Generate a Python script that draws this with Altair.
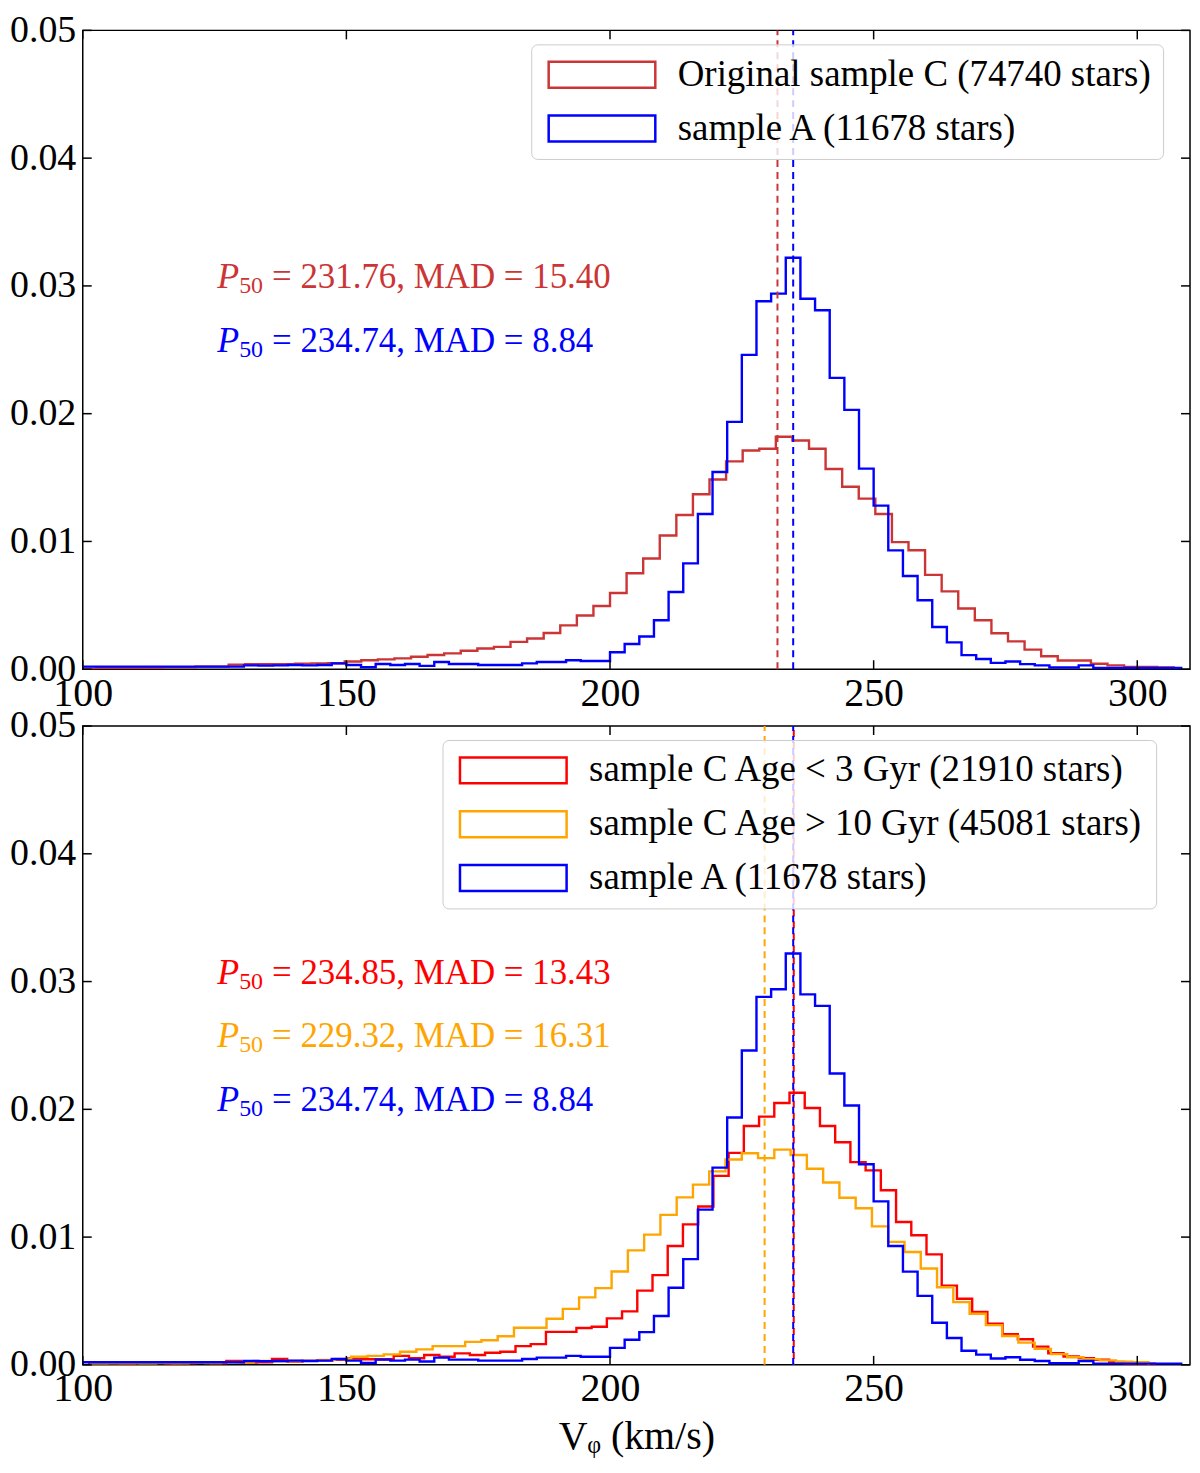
import altair as alt
import pandas as pd

FONT = "Liberation Serif"
W, H = 1111, 641

X_TICKS = [100, 150, 200, 250, 300]
Y_TICKS = [0.0, 0.01, 0.02, 0.03, 0.04, 0.05]

RED_C = "#cc3535"
BLUE = "#0000ff"
RED = "#ff0000"
ORANGE = "#ffa500"

LABEL_C = "Original sample C (74740 stars)"
LABEL_A = "sample A (11678 stars)"
LABEL_YOUNG = "sample C Age < 3 Gyr (21910 stars)"
LABEL_OLD = "sample C Age > 10 Gyr (45081 stars)"

# histogram bins (km/s): first left edge and bin width of each sample
A_START, A_WIDTH = 100.0, 50 / 18
C_START, C_WIDTH = 99.36, 3.145
YOUNG_START, YOUNG_WIDTH = 101.24, 2.887
OLD_START, OLD_WIDTH = 101.55, 3.086

# normalised counts
SAMPLE_A = [
    0.0002, 0.0002, 0.0002, 0.0002, 0.0002, 0.0002, 0.0002, 0.0002, 0.0002, 0.0002, 0.0002,
    0.0003, 0.00028, 0.0003, 0.00033, 0.0003, 0.00033,
    0.00046, 0.00033, 0.00015, 0.00041, 0.00033, 0.00041, 0.00026,
    0.00057, 0.00041, 0.00041, 0.00033, 0.00033, 0.00033,
    0.00046, 0.00057, 0.00057, 0.0007, 0.00064, 0.00064,
    0.00133, 0.00197, 0.00256, 0.00383, 0.00604, 0.00828, 0.01215, 0.01544, 0.01936, 0.0246, 0.0288, 0.0294,
    0.0322, 0.0290, 0.0281, 0.0228, 0.0203, 0.0157, 0.0128, 0.0093, 0.0073, 0.0054, 0.0033, 0.0021,
    0.0011, 0.0008, 0.0005, 0.0006, 0.0004, 0.0003, 0.00013, 0.00013, 0.0003, 0.0001, 0.0001, 0.0001,
    0.0001, 0.0001, 0.0001,
]

SAMPLE_C = [
    0.00005, 0.0001, 0.0001, 0.0001, 0.00012, 0.00015, 0.00015, 0.0002, 0.0002,
    0.00036, 0.00039, 0.0004, 0.00039, 0.00044, 0.00046, 0.00047,
    0.0006, 0.0007, 0.00077, 0.00085, 0.00098, 0.00111, 0.00124, 0.00144, 0.00162, 0.00175,
    0.00214, 0.0024, 0.00284, 0.00343, 0.0042, 0.00495,
    0.00596, 0.00751, 0.00867, 0.01047, 0.01207, 0.01369, 0.01485, 0.01627, 0.01712, 0.01725, 0.0182, 0.0179,
    0.01725, 0.01567, 0.01428, 0.01335, 0.01215, 0.00995, 0.00931, 0.00738, 0.00609, 0.00475, 0.00383, 0.00282,
    0.00218, 0.00153, 0.00102, 0.00068, 0.00068, 0.00043, 0.0003, 0.00017, 0.00017, 0.00013,
]

YOUNG_C = [
    0.00018, 0.00015, 0.0001, 0.00018, 0.00018, 0.0001, 0.00013, 0.00018, 0.00013, 0.0003,
    0.00018, 0.00021, 0.00046, 0.00026, 0.00031, 0.00036, 0.0004, 0.0005, 0.00044, 0.00044,
    0.0007, 0.00052, 0.00077, 0.00064, 0.0009, 0.00077, 0.00095, 0.00103, 0.00147, 0.00162,
    0.00258, 0.00258, 0.00289, 0.00298,
    0.00364, 0.00419, 0.00581, 0.00702, 0.0093, 0.0110, 0.0124, 0.01479, 0.01659, 0.0187, 0.01943, 0.0205,
    0.0213, 0.0201, 0.0187, 0.01742, 0.01587, 0.01522, 0.01367, 0.01118, 0.01015, 0.00865, 0.0062, 0.00517,
    0.00414, 0.00323, 0.00241, 0.002, 0.00143, 0.00091, 0.00066, 0.00053, 0.0004, 0.00022, 0.0001, 0.0001,
]

OLD_C = [
    0.0001, 0.00013, 0.00013, 0.0001, 0.00015, 0.00013, 0.00018, 0.00015, 0.0002, 0.00018, 0.0003, 0.00028,
    0.0003, 0.00033, 0.00039, 0.00046, 0.00064, 0.0007, 0.00082, 0.00103, 0.00121, 0.00147,
    0.00147, 0.0018, 0.00193, 0.00224, 0.00291, 0.00291, 0.00361, 0.00438, 0.00528, 0.00601,
    0.00731, 0.00896, 0.01019, 0.01174, 0.01311, 0.01411, 0.01514, 0.01607, 0.01656, 0.01618, 0.01685, 0.01643,
    0.01535, 0.01427, 0.01308, 0.01226, 0.01084, 0.00963, 0.00883, 0.00754, 0.00607, 0.00491, 0.004, 0.00311,
    0.00226, 0.00174, 0.00125, 0.00084, 0.0006, 0.00045, 0.00035, 0.00025, 0.0002,
]

TOP_MEDIANS = [231.76, 234.74]
BOTTOM_MEDIANS = [229.32, 234.85, 234.74]

NOTE_X = 125.5
TOP_NOTES = ["= 231.76, MAD = 15.40", "= 234.74, MAD = 8.84"]
TOP_NOTE_Y = [0.0307, 0.0257]
BOTTOM_NOTES = ["= 234.85, MAD = 13.43", "= 229.32, MAD = 16.31", "= 234.74, MAD = 8.84"]
BOTTOM_NOTE_Y = [0.0307, 0.0257, 0.0207]


def step_rows(label, start, width, values):
    # outline of a step histogram, closed down to zero at both ends
    rows = [{"series": label, "v": start, "d": 0.0, "i": 0}]
    for n, val in enumerate(values):
        rows.append({"series": label, "v": start + n * width, "d": val, "i": n + 1})
    rows.append({"series": label, "v": start + len(values) * width, "d": 0.0, "i": len(values) + 1})
    return pd.DataFrame(rows)


def panel(hists, medians, median_colors, dash_offsets, notes, note_y, note_colors, legend_x, legend_y, x_title):
    domain = [h[0] for h in hists]
    colors = [h[1] for h in hists]

    x_axis = alt.Axis(
        values=X_TICKS, ticks=False, domain=False, grid=False, labelFlush=False,
        labelFont=FONT, labelFontSize=40, labelPadding=4, labelColor="black",
        titleFont=FONT, titleFontSize=40, titleFontWeight="normal", titleColor="black", titlePadding=8,
    )
    y_axis = alt.Axis(
        values=Y_TICKS, format=".2f", ticks=False, domain=False, grid=False, labelFlush=False,
        labelFont=FONT, labelFontSize=38, labelPadding=7, labelColor="black", title=None,
    )
    x_enc = alt.X("v:Q", scale=alt.Scale(domain=[100, 310], nice=False, zero=False), axis=x_axis, title=x_title)
    y_enc = alt.Y("d:Q", scale=alt.Scale(domain=[0, 0.05], nice=False), axis=y_axis)
    # wide hollow box as legend key: 26 px tall, 107 px long, left-anchored
    legend = alt.Legend(
        title=None, orient="none", legendX=legend_x, legendY=legend_y,
        symbolType="M-1,-1H7.23V1H-1Z", symbolSize=676, symbolStrokeWidth=2.5,
        symbolFillColor="transparent", symbolOpacity=1,
        labelFont=FONT, labelFontSize=37, labelColor="black", labelLimit=900, labelOffset=98,
        rowPadding=16, padding=12, fillColor="rgba(255,255,255,0.8)", strokeColor="#cccccc",
        cornerRadius=6,
    )

    layers = []
    for label, color, start, width, values in hists:
        layers.append(
            alt.Chart(step_rows(label, start, width, values))
            .mark_line(interpolate="step-after", strokeWidth=2.4, clip=True)
            .encode(
                x=x_enc,
                y=y_enc,
                color=alt.Color("series:N", scale=alt.Scale(domain=domain, range=colors), legend=legend),
                order="i:Q",
            )
        )

    for m, c, off in zip(medians, median_colors, dash_offsets):
        layers.append(
            alt.Chart(pd.DataFrame({"m": [m]}))
            .mark_rule(color=c, strokeWidth=2, strokeDash=[7, 5], strokeDashOffset=off)
            .encode(x="m:Q", y=alt.datum(0), y2=alt.datum(0.05))
        )

    xt = pd.DataFrame({"t": X_TICKS})
    yt = pd.DataFrame({"t": Y_TICKS})
    tick = dict(color="black", strokeWidth=1.5)
    layers += [
        alt.Chart(xt).mark_rule(**tick).encode(x="t:Q", y=alt.value(H), y2=alt.value(H - 9)),
        alt.Chart(xt).mark_rule(**tick).encode(x="t:Q", y=alt.value(0), y2=alt.value(9)),
        alt.Chart(yt).mark_rule(**tick).encode(y="t:Q", x=alt.value(0), x2=alt.value(9)),
        alt.Chart(yt).mark_rule(**tick).encode(y="t:Q", x=alt.value(W), x2=alt.value(W - 9)),
    ]

    nd = pd.DataFrame({"x": [NOTE_X] * len(notes), "y": note_y, "t": notes, "c": note_colors})
    base = alt.Chart(nd).encode(x="x:Q", y="y:Q", color=alt.Color("c:N", scale=None))
    txt = dict(font=FONT, align="left", baseline="middle")
    layers += [
        base.mark_text(text="P", fontStyle="italic", fontSize=36, **txt),
        base.mark_text(text="50", fontSize=24, dx=22, dy=9, **txt),
        base.mark_text(fontSize=35, dx=55, **txt).encode(text="t:N"),
    ]

    return alt.layer(*layers).properties(width=W, height=H)


top = panel(
    [(LABEL_C, RED_C, C_START, C_WIDTH, SAMPLE_C), (LABEL_A, BLUE, A_START, A_WIDTH, SAMPLE_A)],
    TOP_MEDIANS, [RED_C, BLUE], [0, 0],
    TOP_NOTES, TOP_NOTE_Y, [RED_C, BLUE],
    450, 14, None,
)

bottom = panel(
    [
        (LABEL_YOUNG, RED, YOUNG_START, YOUNG_WIDTH, YOUNG_C),
        (LABEL_OLD, ORANGE, OLD_START, OLD_WIDTH, OLD_C),
        (LABEL_A, BLUE, A_START, A_WIDTH, SAMPLE_A),
    ],
    BOTTOM_MEDIANS, [ORANGE, RED, BLUE], [0, 6, 0],
    BOTTOM_NOTES, BOTTOM_NOTE_Y, [RED, ORANGE, BLUE],
    361, 14, "V\u1d69 (km/s)",
)

chart = (
    alt.vconcat(top, bottom, spacing=57, bounds="flush")
    .resolve_scale(color="independent")
    .properties(padding={"left": 0, "top": 0, "right": 0, "bottom": 0})
    .configure_view(stroke="black", strokeWidth=1.5)
)

chart.save("out.html", embed_options={"renderer": "svg", "actions": False})
